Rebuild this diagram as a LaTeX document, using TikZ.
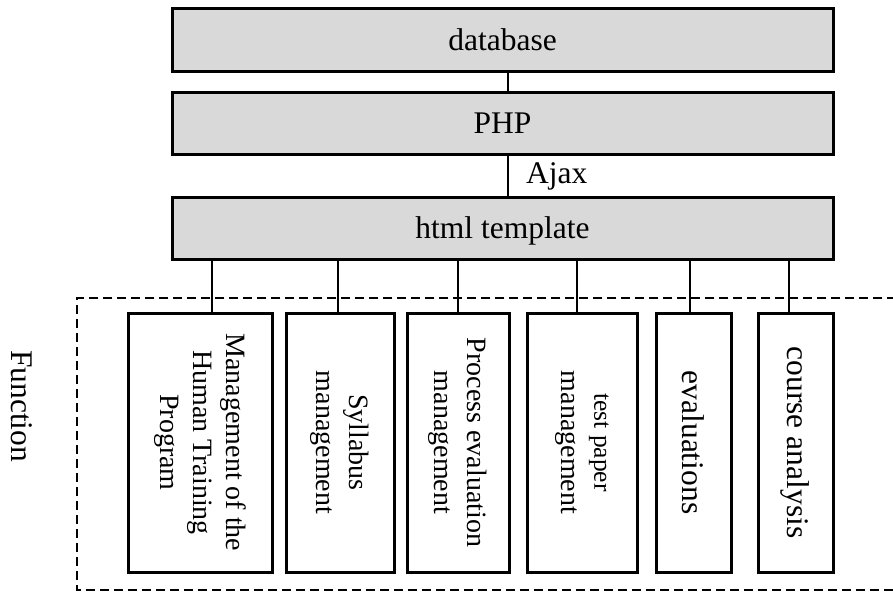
\documentclass[tikz,border=0pt]{standalone}
\usepackage{fontspec}
\setmainfont{Liberation Serif}
\definecolor{boxgray}{HTML}{D9D9D9}
\begin{document}
\begin{tikzpicture}[x=1pt,y=-1pt,
  graybox/.style={draw=black, line width=3pt, fill=boxgray, minimum width=661pt, minimum height=62pt, inner sep=0pt, font=\fontsize{31.5}{36}\selectfont, text depth=0pt},
  fbox/.style={draw=black, line width=3pt, fill=white, inner sep=0pt, minimum height=259pt},
  ftext/.style={rotate=-90, align=center, inner sep=0pt, font=\fontsize{28}{33}\selectfont},
  conn/.style={line width=2.6pt},
  dashbox/.style={line width=2.6pt, dash pattern=on 9pt off 5pt}]
\useasboundingbox (0,0) rectangle (893,592);
% dashed frame
\draw[dashbox] (910,298) -- (77,298) -- (77,590) -- (910,590);
% top layers
\node[graybox, minimum height=63pt] (db) at (502.5,39.5) {database};
\node[graybox] (php) at (502.5,123) {PHP};
\node[graybox] (html) at (502.5,228) {html template};
\coordinate (k0) at (508,0);
\draw[conn] (db.south -| k0) -- (php.north -| k0);
\draw[conn] (php.south -| k0) -- (html.north -| k0);
\node[anchor=base west, inner sep=0pt, font=\fontsize{31.5}{36}\selectfont] (ajax) at (526,183) {Ajax};
% function boxes
\node[fbox, minimum width=144pt] (b1) at (200,442.5) {};
\node[fbox, minimum width=108pt] (b2) at (340,442.5) {};
\node[fbox, minimum width=102pt] (b3) at (458,442.5) {};
\node[fbox, minimum width=110pt] (b4) at (582,442.5) {};
\node[fbox, minimum width=75pt] (b5) at (693.5,442.5) {};
\node[fbox, minimum width=75pt] (b6) at (795.5,442.5) {};
\node[ftext] (t1) at (b1.center) {Management of the\\Human Training\\Program};
\node[ftext] (t2) at (b2.center) {Syllabus\\management};
\node[ftext] (t3) at (b3.center) {Process evaluation\\management};
\node[ftext] (t4) at (b4.center) {{\fontsize{25.5}{33}\selectfont test paper}\\management};
\node[ftext, font=\fontsize{31.5}{36}\selectfont] (t5) at (b5.center) {evaluations};
\node[ftext, font=\fontsize{31.5}{36}\selectfont] (t6) at (b6.center) {course analysis};
% connectors
\coordinate (k1) at (212,0);
\coordinate (k2) at (338,0);
\coordinate (k3) at (458,0);
\coordinate (k4) at (577,0);
\coordinate (k5) at (690,0);
\coordinate (k6) at (789,0);
\draw[conn] (html.south -| k1) -- (b1.north -| k1);
\draw[conn] (html.south -| k2) -- (b2.north -| k2);
\draw[conn] (html.south -| k3) -- (b3.north -| k3);
\draw[conn] (html.south -| k4) -- (b4.north -| k4);
\draw[conn] (html.south -| k5) -- (b5.north -| k5);
\draw[conn] (html.south -| k6) -- (b6.north -| k6);
\node[rotate=-90, anchor=base, inner sep=0pt, font=\fontsize{31.5}{36}\selectfont] (func) at (12,406) {Function};
\end{tikzpicture}
\end{document}
